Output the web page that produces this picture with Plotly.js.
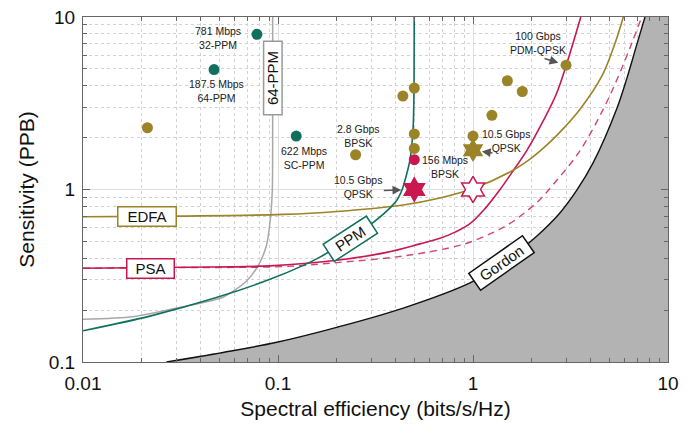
<!DOCTYPE html>
<html><head><meta charset="utf-8">
<script src="https://cdn.plot.ly/plotly-3.0.1.min.js"></script>
<style>html,body{margin:0;padding:0;background:#fff}#chart{width:694px;height:426px}</style>
</head><body><div id="chart"></div>
<script>
// ---------- data ----------
const xTickVals = [0.01, 0.1, 1, 10];
const xTickText = ['0.01', '0.1', '1', '10'];
const yTickVals = [0.1, 1, 10];
const yTickText = ['0.1', '1', '10'];
const xMinorVals = [0.02,0.03,0.04,0.05,0.06,0.07,0.08,0.09,0.2,0.3,0.4,0.5,0.6,0.7,0.8,0.9,2,3,4,5,6,7,8,9];
const yMinorVals = [0.2,0.3,0.4,0.5,0.6,0.7,0.8,0.9,2,3,4,5,6,7,8,9];

// right edge of the plot, used to close the shaded Gordon region
const edgeX = [10, 10];
const edgeY = [0.1, 10];

// Gordon limit
const gordonX = [0.0268, 0.0522, 0.0985, 0.2, 0.439, 0.965, 1.425, 2.12, 2.79, 3.40, 4.14, 5.46, 6.14, 6.91, 7.62];
const gordonY = [0.1, 0.1136, 0.1302, 0.1589, 0.2055, 0.2877, 0.3746, 0.5364, 0.7313, 0.987, 1.436, 2.94, 4.38, 6.89, 10];

// 64-PPM (grey)
const ppm64X = [0.01, 0.01805, 0.0326, 0.0522, 0.0688, 0.0789, 0.0871, 0.0917, 0.0935, 0.0939, 0.0939];
const ppm64Y = [0.177, 0.1832, 0.2093, 0.2375, 0.2939, 0.36, 0.47, 0.70, 1.0, 3.3, 10];

// PPM envelope (teal)
const ppmX = [0.01, 0.02206, 0.0483, 0.091, 0.1348, 0.164, 0.234, 0.3034, 0.3665, 0.4076, 0.4324, 0.4586, 0.4753, 0.4925, 0.4975, 0.4995];
const ppmY = [0.1517, 0.1845, 0.2362, 0.3014, 0.3632, 0.4056, 0.5154, 0.636, 0.762, 0.870, 0.993, 1.246, 1.49, 2.22, 3.31, 10];

// EDFA (gold)
const edfaX = [0.01, 0.0326, 0.106, 0.2, 0.439, 0.677, 1.0, 1.579, 1.96, 2.34, 2.73, 3.54, 4.57, 5.35, 5.90];
const edfaY = [0.695, 0.701, 0.717, 0.746, 0.814, 0.893, 1.013, 1.279, 1.50, 1.773, 2.094, 2.92, 4.52, 7.05, 10];

// PSA solid (crimson)
const psaX = [0.01, 0.0326, 0.091, 0.2, 0.361, 0.535, 0.677, 0.809, 0.965, 1.152, 1.376, 1.579, 1.886, 2.294, 2.665, 3.0, 3.57];
const psaY = [0.3495, 0.354, 0.361, 0.389, 0.432, 0.484, 0.521, 0.566, 0.634, 0.775, 1.0, 1.249, 1.68, 2.505, 3.54, 5.21, 10];

// PSA dashed (crimson)
const psaDashX = [0.01, 0.0326, 0.106, 0.2, 0.439, 0.892, 1.27, 1.548, 1.848, 2.206, 2.58, 3.54, 4.64, 5.56, 6.52, 7.33];
const psaDashY = [0.3495, 0.3527, 0.3574, 0.377, 0.4116, 0.481, 0.564, 0.636, 0.736, 0.875, 1.069, 1.68, 2.9, 4.52, 7.05, 10];

// experiments
const tealPtX = [0.078, 0.047, 0.124];
const tealPtY = [7.94, 4.96, 2.04];
const tealPtLabels = ['781 Mbps<br>32-PPM', '187.5 Mbps<br>64-PPM', '622 Mbps<br>SC-PPM'];

const goldPtX = [0.0214, 0.25, 0.437, 0.5, 0.5, 0.5, 1.0, 1.25, 1.5, 1.79, 3.0];
const goldPtY = [2.28, 1.59, 3.48, 3.87, 2.1, 1.73, 2.04, 2.69, 4.27, 3.70, 5.26];

const goldStarX = [1.0];
const goldStarY = [1.69];
const redDotX = [0.5];
const redDotY = [1.49];
const redStarX = [0.5];
const redStarY = [1.0];
const openStarX = [1.0];
const openStarY = [1.0];

// ---------- styling ----------
const TEAL = '#10705e', GOLD = '#9b8327', RED = '#c9174f', RED2 = '#d0467a', GREY = '#a8a8a8', FILL = '#b3b3b3';
const FONT = 'Liberation Sans, Arial, Helvetica, sans-serif';
const SM = 1.0;

const traces = [
  {x: edgeX, y: edgeY, mode: 'lines', line: {width: 0, color: FILL}, hoverinfo: 'skip', showlegend: false},
  {x: gordonX, y: gordonY, mode: 'lines', fill: 'tonextx', fillcolor: FILL,
   line: {color: '#111', width: 1.4, shape: 'spline', smoothing: SM}, showlegend: false},
  {x: ppm64X, y: ppm64Y, mode: 'lines', line: {color: GREY, width: 1.5, shape: 'spline', smoothing: 0.7}, showlegend: false},
  {x: psaDashX, y: psaDashY, mode: 'lines', line: {color: RED2, width: 1.4, dash: '7px,5px', shape: 'spline', smoothing: SM}, showlegend: false},
  {x: psaX, y: psaY, mode: 'lines', line: {color: RED, width: 1.6, shape: 'spline', smoothing: SM}, showlegend: false},
  {x: edfaX, y: edfaY, mode: 'lines', line: {color: GOLD, width: 1.6, shape: 'spline', smoothing: SM}, showlegend: false},
  {x: ppmX, y: ppmY, mode: 'lines', line: {color: TEAL, width: 1.6, shape: 'spline', smoothing: 0.8}, showlegend: false},
  {x: tealPtX, y: tealPtY, mode: 'markers', marker: {color: TEAL, size: 11}, showlegend: false},
  {x: goldPtX, y: goldPtY, mode: 'markers', marker: {color: GOLD, size: 11}, showlegend: false},
  {x: goldStarX, y: goldStarY, mode: 'markers', marker: {color: GOLD, size: 18, symbol: 'hexagram'}, showlegend: false},
  {x: redDotX, y: redDotY, mode: 'markers', marker: {color: RED, size: 11}, showlegend: false},
  {x: redStarX, y: redStarY, mode: 'markers', marker: {color: RED, size: 20, symbol: 'hexagram'}, showlegend: false},
  {x: openStarX, y: openStarY, mode: 'markers', marker: {color: '#fff', size: 20, symbol: 'hexagram', line: {color: RED, width: 1.5}}, showlegend: false}
];

const txt = (x, y, text, xs, ys) => ({x: Math.log10(x), y: Math.log10(y), text, showarrow: false,
  xshift: xs, yshift: ys, font: {family: FONT, size: 10.5, color: '#222'}, align: 'center'});
const arrow = (x, y, ax, ay, standoff) => ({x: Math.log10(x), y: Math.log10(y), text: '', showarrow: true,
  ax, ay, standoff, arrowhead: 2, arrowsize: 1.1, arrowwidth: 1.6, arrowcolor: '#555'});
const box = (x, y, text, color, angle, w, h) => ({x: Math.log10(x), y: Math.log10(y), text, showarrow: false,
  textangle: angle, bgcolor: '#fff', bordercolor: color, borderwidth: 1.5, borderpad: 1, width: w, height: h,
  font: {family: FONT, size: 15, color: '#111'}});

const annotations = [
  txt(tealPtX[0], tealPtY[0], tealPtLabels[0], -39, -4),
  txt(tealPtX[1], tealPtY[1], tealPtLabels[1], 2, -21),
  txt(tealPtX[2], tealPtY[2], tealPtLabels[2], 8, -22),
  txt(goldPtX[1], goldPtY[1], '2.8 Gbps<br>BPSK', 3, 19),
  txt(redDotX[0], redDotY[0], '156 Mbps<br>BPSK', 31, -7),
  txt(goldPtX[6], goldPtY[6], '10.5 Gbps<br>QPSK', 33, -5),
  txt(redStarX[0], redStarY[0], '10.5 Gbps<br>QPSK', -56, 3),
  txt(goldPtX[10], goldPtY[10], '100 Gbps<br>PDM-QPSK', -28, 22),
  arrow(redStarX[0], redStarY[0], -32, 1, 13),
  arrow(goldStarX[0], goldStarY[0], 21, 3, 9),
  arrow(goldPtX[10], goldPtY[10], -23, -7, 8),
  box(0.0939, 4.44, '64-PPM', '#999', -90, 70, 15),
  box(0.0214, 0.695, 'EDFA', GOLD, 0, 55, 16),
  box(0.0221, 0.35, 'PSA', RED, 0, 44, 16),
  box(0.234, 0.5154, 'PPM', TEAL, -33, 48, 17),
  box(1.40, 0.375, 'Gordon', '#111', -35, 62, 17)
];

// major y=1 grid line stays visible over the shaded region, as in the reference
const shapes = [
  {type: 'line', layer: 'above', xref: 'x', yref: 'y', x0: Math.log10(gordonX[9]) + 0.01, x1: Math.log10(edgeX[0]),
   y0: 0, y1: 0, line: {color: '#e2e2e2', width: 1}}
];

const axisCommon = {
  type: 'log', showline: true, linecolor: '#666', linewidth: 1, mirror: 'ticks',
  ticks: 'inside', ticklen: 7, tickcolor: '#666', tickwidth: 1,
  showgrid: true, gridcolor: '#dedede', gridwidth: 1, zeroline: false,
  tickfont: {family: FONT, size: 19, color: '#111'}, tickmode: 'array'
};

const layout = {
  width: 694, height: 426,
  margin: {l: 83, r: 26, t: 17, b: 64},
  paper_bgcolor: '#fff', plot_bgcolor: '#fff',
  showlegend: false,
  xaxis: Object.assign({}, axisCommon, {
    range: [-2, 1], tickvals: xTickVals, ticktext: xTickText, ticklabelstandoff: 4,
    minor: {tickmode: 'array', tickvals: xMinorVals, ticks: 'inside', ticklen: 4, tickcolor: '#666',
            showgrid: true, gridcolor: '#d2d2d2', griddash: 'dot', gridwidth: 1},
    title: {text: 'Spectral efficiency (bits/s/Hz)', font: {family: FONT, size: 21, color: '#111'}, standoff: 8}
  }),
  yaxis: Object.assign({}, axisCommon, {
    range: [-1, 1], tickvals: yTickVals, ticktext: yTickText, ticklabelstandoff: 3,
    minor: {tickmode: 'array', tickvals: yMinorVals, ticks: 'inside', ticklen: 4, tickcolor: '#666',
            showgrid: true, gridcolor: '#d2d2d2', griddash: 'dot', gridwidth: 1},
    title: {text: 'Sensitivity (PPB)', font: {family: FONT, size: 21, color: '#111'}, standoff: 8}
  }),
  annotations,
  shapes
};

Plotly.newPlot('chart', traces, layout, {staticPlot: true, displayModeBar: false});
</script></body></html>
